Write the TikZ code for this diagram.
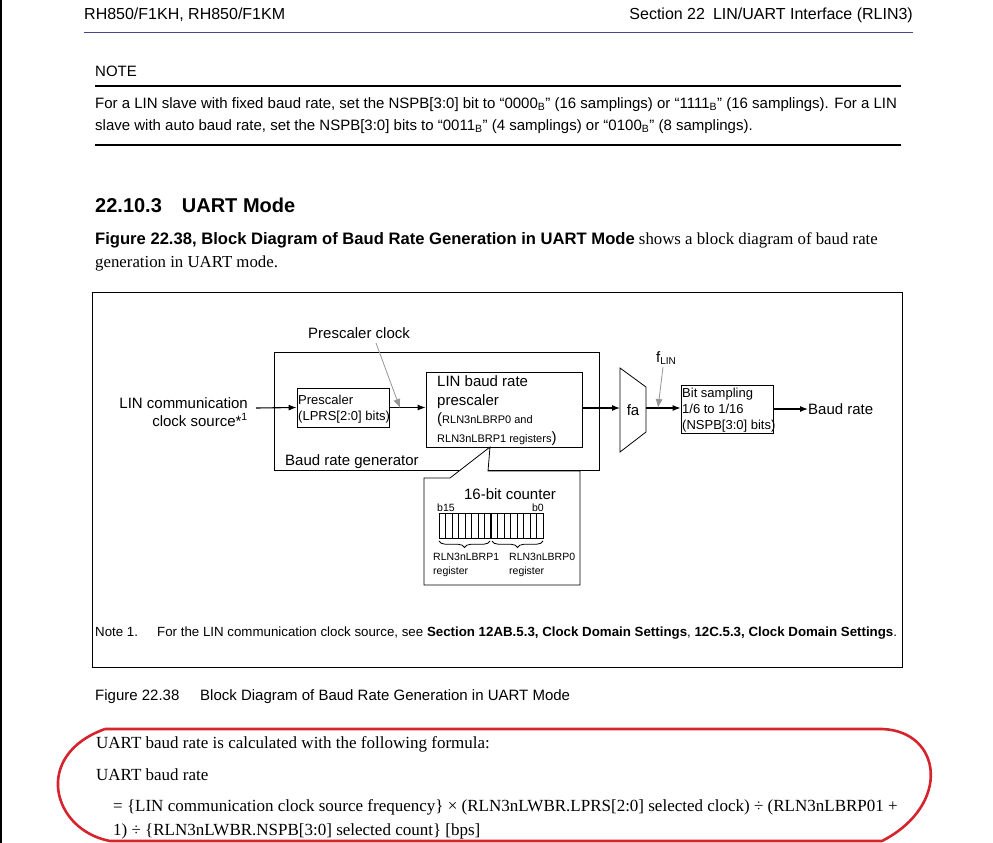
\documentclass[tikz,border=0pt]{standalone}
\usepackage{fontspec}
\setmainfont{Liberation Serif}
\setsansfont{Liberation Sans}
\usepackage{tikz}
\usetikzlibrary{arrows.meta, positioning, decorations.pathreplacing}
\definecolor{hdrblue}{RGB}{70,70,140}
\definecolor{markred}{RGB}{214,36,46}
\definecolor{pgray}{RGB}{150,150,150}
\newcommand{\fsz}[1]{\fontsize{#1}{#1}\selectfont}
\tikzset{
  txt/.style      = {inner sep=0pt, anchor=base west, font=\sffamily\fsz{15}},
  box/.style      = {draw, line width=0.8pt, inner sep=0pt, fill=white},
  arrow/.style    = {-{Latex[length=8pt,width=6pt]}, line width=1.1pt},
  garrow/.style   = {-{Latex[length=9pt,width=7pt]}, line width=0.8pt, color=pgray},
  rule/.style     = {line width=2.6pt},
  small/.style    = {txt, font=\sffamily\fsz{13}},
  tiny/.style     = {txt, font=\sffamily\fsz{10.5}},
  regbrace/.style = {decorate, decoration={brace, mirror, amplitude=6.5pt}, line width=0.8pt},
}

\begin{document}
\begin{tikzpicture}[x=1pt, y=-1pt]
  \useasboundingbox[fill=white] (0,0) rectangle (993,843);
  \draw[line width=1.5pt] (1,0) -- (1,843);

  %─── Page header ───────────────────────────────────────────────────────────
  \node[txt, font=\sffamily\fsz{16}] at (84,20) (hdrL) {RH850/F1KH, RH850/F1KM};
  \node[txt, anchor=base east, font=\sffamily\fsz{16}] at (913,20) (hdrR)
        {Section 22\enspace LIN/UART Interface (RLIN3)};
  \draw[hdrblue, line width=1pt] (84,33) -- (913,33);

  %─── Note ──────────────────────────────────────────────────────────────────
  \node[txt] at (95,77) (note) {NOTE};
  \draw[rule] (95,86) -- (901,86);
  \node[txt, font=\sffamily\fsz{15}] at (95,108) (noteA)
        {For a LIN slave with fixed baud rate, set the NSPB[3:0] bit to “0000\textsubscript{B}” (16 samplings) or “1111\textsubscript{B}” (16 samplings). For a LIN};
  \node[txt, font=\sffamily\fsz{15}] at (95,130) (noteB)
        {slave with auto baud rate, set the NSPB[3:0] bits to “0011\textsubscript{B}” (4 samplings) or “0100\textsubscript{B}” (8 samplings).};
  \draw[rule] (95,145) -- (901,145);

  %─── Section heading and text ──────────────────────────────────────────────
  \node[txt, font=\sffamily\bfseries\fsz{20}] at (95,212) (sec) {22.10.3\quad UART Mode};
  \node[txt, font=\sffamily\fsz{16.6}] at (95,244.5) (paraA)
        {{\bfseries Figure 22.38, Block Diagram of Baud Rate Generation in UART Mode}{\rmfamily\fsz{16.8} shows a block diagram of baud rate}};
  \node[txt, font=\rmfamily\fsz{16.8}] at (95,267.5) (paraB) {generation in UART mode.};

  %─── Figure frame ──────────────────────────────────────────────────────────
  \draw[line width=0.8pt] (92,292) rectangle (902,667);

  %─── Baud rate generator ───────────────────────────────────────────────────
  \node[box, minimum width=325pt, minimum height=118pt] at (436.5,411) (brg) {};
  \node[txt] at (285,465) (brglbl) {Baud rate generator};
  \node[txt] at (308,338) (pclk) {Prescaler clock};

  \node[box, minimum width=92pt, minimum height=39pt] at (343,407.5) (prsc) {};
  \node[small, align=left, font=\sffamily\fontsize{13}{16}\selectfont] at (298,420.5) (prsctxt)
        {Prescaler\\(LPRS[2:0] bits)};

  \node[box, minimum width=156pt, minimum height=75pt] at (504,409.5) (lbrp) {};
  \node[txt, align=left, font=\sffamily\fontsize{15}{18.5}\selectfont] at (437,442) (lbrptxt)
        {LIN baud rate\\prescaler\\(\fsz{11}RLN3nLBRP0 and\\\fsz{11}RLN3nLBRP1 registers\fsz{15})};

  %─── Input and output side ─────────────────────────────────────────────────
  \node[txt, anchor=base east, align=right, font=\sffamily\fontsize{15}{18}\selectfont] at (248,426) (src)
        {LIN communication\\clock source*\textsuperscript{1}};
  \coordinate (srcend) at (256,408);

  \draw[line width=0.8pt] (620,368) -- (646,387) -- (646,432) -- (620,452) -- cycle;
  \node[txt, anchor=center] at (633,410) (fa) {fa};
  \coordinate (faL) at (620,408);
  \coordinate (faR) at (646,408);

  \node[txt] at (656,362) (flin) {f\textsubscript{\fsz{10}LIN}};

  \node[box, minimum width=92pt, minimum height=48pt] at (727,409) (bits) {};
  \node[small, align=left, font=\sffamily\fontsize{13}{16}\selectfont] at (682,429.5) (bitstxt)
        {Bit sampling\\1/6 to 1/16\\(NSPB[3:0] bits)};
  \node[txt] at (808,414) (baud) {Baud rate};

  %─── Edges ─────────────────────────────────────────────────────────────────
  \draw[arrow] (srcend) -- (prsc.west);
  \draw[arrow] (prsc.east) -- (prsc.east -| lbrp.west);
  \draw[arrow] (lbrp.east |- faL) -- (faL);
  \draw[arrow] (faR) -- (faR -| bits.west);
  \draw[arrow] (bits.east) -- (baud.west |- bits.east);
  \draw[garrow] (376,343) -- (400,408);
  \draw[garrow] (663,367) -- (658,408);

  %─── 16-bit counter callout ────────────────────────────────────────────────
  \coordinate (tip) at (490,447);
  \draw[line width=0.8pt, fill=white] (424,478) -- (450,478) -- (tip) -- (488,471)
        -- (580,471) -- (580,585) -- (424,585) -- cycle;
  \node[txt, anchor=center] at (510,494) (cnt) {16-bit counter};
  \node[tiny] at (437,511) (b15) {b15};
  \node[tiny, anchor=base east] at (544,511) (b0) {b0};
  \foreach \i in {0,...,15}
    \draw[line width=0.8pt] (439+\i*6.5,513) rectangle ++(6.5,25);
  \draw[line width=1.6pt] (491,513) -- (491,538);
  \draw[regbrace] (439,541) -- (490,541);
  \draw[regbrace] (492,541) -- (543,541);
  \node[tiny, align=left, font=\sffamily\fontsize{10.5}{14}\selectfont] at (433,574) (reg1) {RLN3nLBRP1\\register};
  \node[tiny, align=left, font=\sffamily\fontsize{10.5}{14}\selectfont] at (509,574) (reg0) {RLN3nLBRP0\\register};

  %─── Note 1 and caption ────────────────────────────────────────────────────
  \node[txt, font=\sffamily\fsz{13.3}] at (95,636.5) (n1) {Note 1.};
  \node[txt, font=\sffamily\fsz{13.3}] at (157,636.5) (n1txt)
        {For the LIN communication clock source, see \textbf{Section 12AB.5.3, Clock Domain Settings}, \textbf{12C.5.3, Clock Domain Settings}.};
  \node[txt, font=\sffamily\fsz{15}] at (95,700) (capA) {Figure 22.38};
  \node[txt, font=\sffamily\fsz{15}] at (200,700) (capB) {Block Diagram of Baud Rate Generation in UART Mode};

  %─── Formula ───────────────────────────────────────────────────────────────
  \node[txt, font=\rmfamily\fsz{17}] at (96,748) (fA) {UART baud rate is calculated with the following formula:};
  \node[txt, font=\rmfamily\fsz{17}] at (96,780) (fB) {UART baud rate};
  \node[txt, font=\rmfamily\fsz{17}] at (113,811) (fC)
        {= \{LIN communication clock source frequency\} × (RLN3nLWBR.LPRS[2:0] selected clock) ÷ (RLN3nLBRP01 +};
  \node[txt, font=\rmfamily\fsz{17}] at (113,835) (fD)
        {1) ÷ \{RLN3nLWBR.NSPB[3:0] selected count\} [bps]};

  % hand-drawn mark
  \draw[markred, line width=2.6pt] (105,729) -- (882,729)
        .. controls (942,731) and (952,805) .. (882,841) -- (110,841)
        .. controls (52,830) and (32,755) .. (105,729);

\end{tikzpicture}
\end{document}
